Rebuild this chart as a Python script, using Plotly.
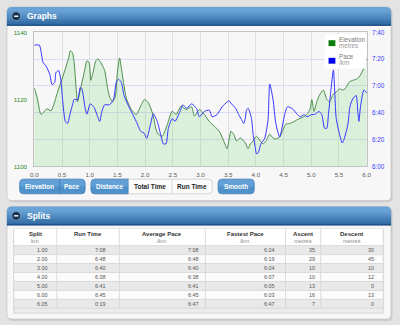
import plotly.graph_objects as go

W, H = 400, 325

# ---------------- data ----------------
elev_km = [0.00,0.05,0.12,0.18,0.23,0.30,0.35,0.42,0.48,0.55,
           0.62,0.65,0.69,0.72,0.76,0.78,0.83,0.90,0.95,0.99,
           1.02,1.06,1.11,1.15,1.20,1.27,1.32,1.36,1.41,1.46,
           1.50,1.54,1.57,1.61,1.66,1.75,1.84,1.92,1.99,2.06,
           2.14,2.22,2.31,2.40,2.49,2.56,2.65,2.74,2.84,2.89,
           2.98,3.07,3.16,3.25,3.34,3.42,3.48,3.55,3.60,3.65,
           3.72,3.81,3.86,3.90,3.95,4.01,4.08,4.13,4.18,4.25,
           4.31,4.36,4.43,4.48,4.54,4.61,4.69,4.75,4.80,4.87,
           4.92,4.98,5.01,5.05,5.10,5.15,5.22,5.28,5.33,5.40,
           5.45,5.51,5.58,5.63,5.68,5.75,5.81,5.86,5.93,5.98,
           6.05]
elev_m = [1123.4,1120.7,1115.5,1116.4,1117.2,1116.6,1118.4,1122.2,1125.1,1128.6,
          1132.4,1134.5,1133.9,1131.0,1122.2,1119.3,1122.8,1128.0,1131.5,1131.0,
          1125.7,1128.0,1131.5,1132.1,1131.0,1128.6,1123.6,1120.7,1119.3,1120.7,
          1128.0,1132.4,1129.5,1125.1,1120.5,1117.0,1115.5,1118.0,1120.0,1119.0,
          1115.5,1110.0,1109.0,1112.5,1116.5,1115.5,1118.0,1117.0,1117.8,1115.0,
          1117.0,1115.5,1113.4,1112.0,1110.5,1107.6,1105.3,1110.5,1109.6,1107.6,
          1108.5,1107.0,1105.3,1106.7,1107.6,1109.0,1107.6,1106.7,1107.6,1109.6,
          1108.5,1108.2,1108.8,1110.5,1112.6,1112.8,1113.4,1114.0,1114.3,1114.9,
          1115.5,1117.2,1120.0,1116.4,1119.3,1121.3,1122.8,1120.0,1119.3,1121.6,
          1122.2,1123.1,1122.8,1123.6,1125.1,1125.7,1126.0,1126.6,1128.6,1131.5,
          1133.0]

pace_km = [0.00,0.09,0.16,0.21,0.28,0.32,0.37,0.39,0.44,0.48,
           0.51,0.56,0.60,0.65,0.69,0.72,0.78,0.83,0.86,0.92,
           0.95,1.01,1.08,1.13,1.18,1.22,1.27,1.36,1.43,1.48,
           1.52,1.57,1.62,1.69,1.75,1.84,1.92,1.98,2.03,2.06,
           2.14,2.15,2.22,2.28,2.33,2.38,2.42,2.49,2.54,2.63,
           2.68,2.75,2.84,2.93,2.98,3.07,3.16,3.21,3.30,3.39,
           3.48,3.51,3.56,3.64,3.69,3.74,3.78,3.81,3.83,3.86,
           3.92,3.95,3.99,4.01,4.04,4.09,4.16,4.22,4.25,4.31,
           4.36,4.43,4.52,4.57,4.66,4.75,4.80,4.87,4.92,5.01,
           5.06,5.14,5.19,5.24,5.28,5.31,5.35,5.40,5.45,5.51,
           5.56,5.59,5.66,5.70,5.75,5.81,5.84,5.86,5.89,5.95,
           6.00,6.03]
pace_s = [450.5,450.5,437.4,435.0,428.6,421.0,422.8,430.0,431.5,424.0,
          410.0,393.6,392.0,400.0,406.0,410.0,409.6,419.0,417.7,403.0,
          399.0,406.7,404.0,398.7,393.6,401.0,406.0,406.0,410.0,422.8,
          425.0,422.8,413.0,406.0,401.0,393.6,386.3,384.8,381.0,384.8,
          398.7,399.4,393.6,384.0,376.8,377.0,388.5,395.8,393.6,401.0,
          406.0,403.4,406.7,403.0,397.0,401.0,402.0,397.0,398.7,404.5,
          408.0,409.0,406.7,403.0,398.7,395.0,392.0,396.0,402.0,403.4,
          396.0,384.0,374.0,369.5,370.0,376.8,381.0,395.0,421.5,410.0,
          392.0,382.0,398.7,404.5,403.0,398.7,397.0,398.7,397.0,398.7,
          398.7,401.0,398.7,388.5,388.5,398.7,415.0,432.0,396.0,384.0,
          377.5,380.0,391.0,405.0,410.4,413.0,401.0,393.6,405.0,417.0,
          415.0,412.0]

elev_ticks = [1100, 1120, 1140]
pace_ticks = [360, 380, 400, 420, 440, 460]
pace_labels = [f"{v // 60}:{v % 60:02d}" for v in pace_ticks]

split_km = ["1.00", "2.00", "3.00", "4.00", "5.00", "6.00", "6.05"]
run_time = ["7:08", "6:48", "6:40", "6:38", "6:41", "6:45", "0:19"]
avg_pace = ["7:08", "6:48", "6:40", "6:38", "6:41", "6:45", "6:47"]
fast_pace = ["6:24", "6:19", "6:04", "6:07", "6:05", "6:03", "6:47"]
ascent = [35, 29, 10, 10, 13, 16, 7]
descent = [30, 45, 10, 12, 0, 13, 0]
col_titles = ["Split", "Run Time", "Average Pace", "Fastest Pace", "Ascent", "Descent"]
col_units = ["km", "", "/km", "/km", "metres", "metres"]
col_widths = [44, 64, 88, 82, 36, 64]
col_pad = [8, 13, 6, 10, 5, 8]

FONT = "Liberation Sans, Arial, Helvetica, sans-serif"

# ---------------- helpers ----------------
def fx(x):
    return x / W

def fy(y):
    return 1 - y / H

def P(x, y):
    return f"{fx(x):.5f},{fy(y):.5f}"

def rpath(x0, y0, x1, y1, r, tl=True, tr=True, br=True, bl=True):
    s = f"M {P(x0 + (r if tl else 0), y0)} L {P(x1 - (r if tr else 0), y0)} "
    if tr:
        s += f"Q {P(x1, y0)} {P(x1, y0 + r)} "
    s += f"L {P(x1, y1 - (r if br else 0))} "
    if br:
        s += f"Q {P(x1, y1)} {P(x1 - r, y1)} "
    s += f"L {P(x0 + (r if bl else 0), y1)} "
    if bl:
        s += f"Q {P(x0, y1)} {P(x0, y1 - r)} "
    s += f"L {P(x0, y0 + (r if tl else 0))} "
    if tl:
        s += f"Q {P(x0, y0)} {P(x0 + r, y0)} "
    return s + "Z"

shapes = []
annotations = []

def add_path(path, fill, line=None, lw=1, layer="below"):
    shapes.append(dict(type="path", xref="paper", yref="paper", path=path,
                       fillcolor=fill, layer=layer,
                       line=dict(color=line if line else "rgba(0,0,0,0)", width=lw if line else 0)))

def add_rect(x0, y0, x1, y1, fill, line=None, lw=1, layer="below"):
    shapes.append(dict(type="rect", xref="paper", yref="paper",
                       x0=fx(x0), x1=fx(x1), y0=fy(y1), y1=fy(y0),
                       fillcolor=fill, layer=layer,
                       line=dict(color=line if line else "rgba(0,0,0,0)", width=lw if line else 0)))

def add_line(x0, y0, x1, y1, color, lw=1, layer="below"):
    shapes.append(dict(type="line", xref="paper", yref="paper",
                       x0=fx(x0), x1=fx(x1), y0=fy(y0), y1=fy(y1),
                       layer=layer, line=dict(color=color, width=lw)))

def hexrgb(c):
    c = c.lstrip("#")
    return tuple(int(c[i:i + 2], 16) for i in (0, 2, 4))

def mix(c1, c2, t):
    a, b = hexrgb(c1), hexrgb(c2)
    return "#" + "".join(f"{round(a[i] + (b[i] - a[i]) * t):02x}" for i in range(3))

def text(x, y, s, size=6.5, color="#333", xanchor="left"):
    annotations.append(dict(x=fx(x), y=fy(y), xref="paper", yref="paper", text=s,
                            showarrow=False, xanchor=xanchor, yanchor="middle",
                            borderpad=0, font=dict(family=FONT, size=size, color=color)))

def header_bar(x0, y0, x1, y1, title):
    top, bot = "#6aa4d7", "#2b639c"
    add_path(rpath(x0, y0, x1, y1, 5, br=False, bl=False), top)
    n = 10
    ys = y0 + 4
    for i in range(n):
        a = ys + (y1 - ys) * i / n
        b = ys + (y1 - ys) * (i + 1) / n
        add_rect(x0, a, x1, b + 0.4, mix(top, bot, (i + 0.5) / n))
    add_line(x0, y1 - 0.5, x1, y1 - 0.5, "#24507e", 1)
    cy = (y0 + y1) / 2
    shapes.append(dict(type="circle", xref="paper", yref="paper",
                       x0=fx(8), x1=fx(17), y0=fy(cy + 4.5), y1=fy(cy - 4.5),
                       fillcolor="#18314f", layer="below",
                       line=dict(color="#8fb3d6", width=0.6)))
    add_line(10.3, cy, 14.7, cy, "white", 1.4)
    text(22.5, cy, f"<b>{title}</b>", size=8.5, color="white")

def blue_button(x0, y0, x1, y1, tl=True, tr=True, br=True, bl=True):
    add_path(rpath(x0, y0, x1, y1, 4, tl, tr, br, bl), "#4f91cb", line="#4680b6", lw=0.8)
    mid = (y0 + y1) / 2
    add_path(rpath(x0 + 0.5, y0 + 0.5, x1 - 0.5, mid, 3.5, tl, tr, False, False), "#62a1d8")

# ---------------- page chrome ----------------
add_path(rpath(4, 4, 397.5, 202.5, 5), "#cdcdcd")
add_path(rpath(3, 3, 396, 201, 5), "#f7f7f7", line="#c4c4c4", lw=0.8)
header_bar(3, 3, 396, 22, "Graphs")

add_path(rpath(4, 208, 397.5, 324, 5), "#cdcdcd")
add_path(rpath(3, 207, 396, 322, 5), "#f7f7f7", line="#c4c4c4", lw=0.8)
header_bar(3, 207, 396, 226, "Splits")

# buttons
blue_button(16, 179, 83, 194)
add_line(57, 179.5, 57, 193.5, "#3f78ab", 0.8)
text(36.5, 186.8, "<b>Elevation</b>", color="white", xanchor="center")
text(70, 186.8, "<b>Pace</b>", color="white", xanchor="center")

add_path(rpath(89, 179, 213, 194, 4), "#fbfbfb", line="#c9c9c9", lw=0.8)
blue_button(89, 179, 127, 194, tr=False, br=False)
add_line(172, 179.5, 172, 193.5, "#d2d2d2", 0.8)
text(108, 186.8, "<b>Distance</b>", color="white", xanchor="center")
text(149.5, 186.8, "<b>Total Time</b>", color="#1e1e1e", xanchor="center")
text(192.5, 186.8, "<b>Run Time</b>", color="#1e1e1e", xanchor="center")

blue_button(219, 179, 256, 194)
text(237.5, 186.8, "<b>Smooth</b>", color="white", xanchor="center")

# legend inside plot
add_rect(328, 31, 370.5, 66, "white", layer="above")
add_rect(332, 37, 339, 43, "#0b7d0b", layer="above")
add_rect(332, 55, 339, 61, "#0000f0", layer="above")
text(341.5, 36.5, "Elevation", size=6.3, color="#7a7a7a")
text(341.5, 42.3, "metres", size=6.3, color="#9a9a9a")
text(341.5, 54.0, "Pace", size=6.3, color="#7a7a7a")
text(341.5, 60.0, "/km", size=6.3, color="#9a9a9a")

# ---------------- splits table (cells built from the data lists) ----------------
tx0, ty0, tx1 = 10, 230, 388
hdr_h = 17
row_h = 9.14
columns = [split_km, run_time, avg_pace, fast_pace,
           [str(v) for v in ascent], [str(v) for v in descent]]
n_rows = len(split_km)
body_top = ty0 + hdr_h
tbl_bottom = body_top + row_h * n_rows
edges = [tx0]
for w in col_widths:
    edges.append(edges[-1] + w * (tx1 - tx0) / sum(col_widths))

add_rect(tx0, ty0, tx1, tbl_bottom + 5, "#ececec", line="#cfcfcf", lw=0.8)
add_rect(tx0, ty0, tx1, body_top, "white")
for r in range(n_rows):
    ya = body_top + r * row_h
    add_rect(tx0, ya, tx1, ya + row_h, "#e9e9e9" if r % 2 == 0 else "#fbfbfb")
for r in range(n_rows + 1):
    ya = body_top + r * row_h
    add_line(tx0, ya, tx1, ya, "#d4d4d4", 0.8)
for e in edges:
    add_line(e, ty0, e, tbl_bottom, "#d4d4d4", 0.8)

for c, (title, unit) in enumerate(zip(col_titles, col_units)):
    cx = (edges[c] + edges[c + 1]) / 2
    text(cx, ty0 + 5.3, f"<b>{title}</b>", size=6.0, color="#333", xanchor="center")
    if unit:
        text(cx, ty0 + 12.0, unit, size=5.8, color="#8a8a8a", xanchor="center")
    for r, v in enumerate(columns[c]):
        text(edges[c + 1] - col_pad[c], body_top + (r + 0.5) * row_h + 0.2, v,
             size=5.4, color="#555", xanchor="right")

# ---------------- figure ----------------
fig = go.Figure()

fig.add_trace(go.Scatter(
    x=elev_km, y=elev_m, mode="lines", name="Elevation",
    line=dict(color="#4d8c4d", width=1, shape="spline", smoothing=0.6),
    fill="tozeroy", fillcolor="rgba(80,210,80,0.17)", yaxis="y", hoverinfo="skip"))

fig.add_trace(go.Scatter(
    x=pace_km, y=pace_s, mode="lines", name="Pace",
    line=dict(color="#3535ff", width=1, shape="spline", smoothing=0.6),
    yaxis="y2", hoverinfo="skip"))

fig.update_layout(
    width=W, height=H, autosize=False,
    margin=dict(l=0, r=0, t=0, b=0),
    paper_bgcolor="#e3e3e3", plot_bgcolor="white",
    showlegend=False,
    font=dict(family=FONT),
    xaxis=dict(domain=[fx(31), fx(371)], range=[0, 6], dtick=0.5, tick0=0,
               tickformat=".1f", showgrid=True, gridcolor="#e0e0e0", gridwidth=1,
               showline=True, mirror=True, linecolor="#c2c2c2", linewidth=1,
               zeroline=False, ticks="outside", ticklen=2, tickcolor="rgba(0,0,0,0)",
               tickfont=dict(size=6.2, color="#5a5a5a", family=FONT)),
    yaxis=dict(domain=[fy(166), fy(29)], range=[1100, 1140], tickvals=elev_ticks,
               showgrid=False, zeroline=False, showline=True, mirror=True,
               linecolor="#c2c2c2", linewidth=1,
               ticks="outside", ticklen=5, tickcolor="rgba(0,0,0,0)",
               tickfont=dict(size=6.2, color="#1f8a1f", family=FONT)),
    yaxis2=dict(overlaying="y", side="right", range=[360, 460],
                tickvals=pace_ticks, ticktext=pace_labels,
                showgrid=True, gridcolor="#dcdcf6", gridwidth=1, zeroline=False,
                ticks="outside", ticklen=3, tickcolor="rgba(0,0,0,0)",
                tickfont=dict(size=6.4, color="#3a3aff", family=FONT)),
    shapes=shapes, annotations=annotations,
)

fig.write_html("out.html")
